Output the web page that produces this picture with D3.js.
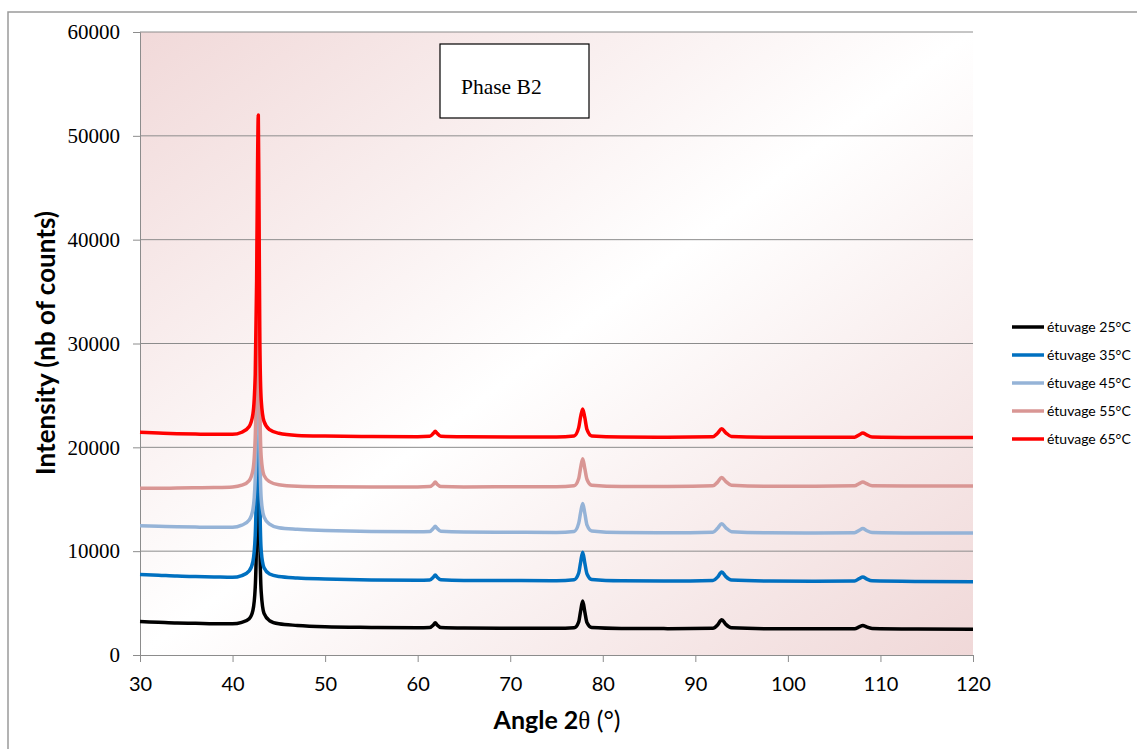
<!DOCTYPE html>
<html><head><meta charset="utf-8">
<script src="https://cdn.jsdelivr.net/npm/d3@7"></script>
<style>html,body{margin:0;padding:0;background:#fff;}svg{display:block;}</style>
</head><body>
<svg id="chart" width="1137" height="749"></svg>
<script>
const angles = [30, 32, 34, 36, 38, 40, 41, 41.8, 42.2, 42.45, 42.6, 42.7, 42.78, 42.86, 42.95, 43.1, 43.4, 44, 45, 47, 50, 55, 60, 61.3, 61.7, 61.9, 62.1, 62.5, 65, 70, 75, 76.9, 77.4, 77.6, 77.83, 78.05, 78.3, 78.8, 82, 87, 91.9, 92.4, 92.85, 93.3, 93.9, 98, 103, 107.2, 107.7, 108.1, 108.5, 109.1, 114, 120];
const s25 = [3220, 3150, 3080, 3050, 3010, 3000, 3150, 3500, 4300, 6500, 12000, 22000, 27500, 20000, 11000, 6000, 4000, 3300, 3000, 2850, 2730, 2660, 2620, 2650, 2900, 3100, 2900, 2650, 2600, 2580, 2570, 2620, 3200, 4200, 5200, 4200, 3100, 2650, 2560, 2540, 2580, 2900, 3400, 2950, 2620, 2530, 2520, 2540, 2700, 2850, 2700, 2560, 2500, 2480];
const s35 = [7750, 7680, 7600, 7560, 7520, 7480, 7650, 8100, 9000, 11500, 18000, 28000, 33000, 25000, 15000, 10000, 8400, 7800, 7550, 7420, 7330, 7230, 7200, 7230, 7500, 7700, 7500, 7250, 7180, 7170, 7160, 7250, 7900, 8900, 9900, 8900, 7800, 7280, 7150, 7130, 7180, 7500, 8000, 7550, 7220, 7120, 7100, 7120, 7350, 7520, 7330, 7140, 7080, 7060];
const s45 = [12450, 12400, 12350, 12320, 12300, 12300, 12500, 13000, 14000, 17000, 24000, 34000, 38500, 30000, 20000, 15000, 13300, 12600, 12250, 12100, 12000, 11900, 11860, 11900, 12200, 12400, 12200, 11920, 11840, 11820, 11800, 11900, 12700, 13700, 14600, 13700, 12500, 11950, 11790, 11780, 11830, 12200, 12650, 12250, 11880, 11770, 11760, 11780, 12000, 12180, 11990, 11800, 11750, 11740];
const s55 = [16050, 16050, 16080, 16100, 16120, 16180, 16350, 16800, 17800, 21000, 28000, 39000, 44000, 35000, 24000, 19000, 17300, 16700, 16400, 16250, 16200, 16180, 16180, 16220, 16450, 16650, 16450, 16230, 16190, 16200, 16210, 16300, 17000, 18000, 18900, 18000, 16900, 16350, 16230, 16240, 16300, 16650, 17100, 16700, 16350, 16250, 16260, 16290, 16500, 16650, 16500, 16300, 16270, 16280];
const s65 = [21450, 21380, 21320, 21280, 21250, 21250, 21450, 22000, 23200, 27000, 36000, 47000, 52000, 43000, 30000, 24500, 22500, 21700, 21350, 21150, 21080, 21040, 21020, 21060, 21350, 21550, 21350, 21070, 21020, 21000, 21000, 21100, 21900, 22900, 23700, 22900, 21700, 21100, 20990, 20980, 21020, 21350, 21780, 21400, 21050, 20970, 20960, 20980, 21200, 21380, 21200, 21000, 20950, 20940];
const seriesNames = ["étuvage 25°C", "étuvage 35°C", "étuvage 45°C", "étuvage 55°C", "étuvage 65°C"];
const seriesColors = ["#000000", "#0070c0", "#95b3d7", "#d99694", "#ff0000"];
const xTicks = [30, 40, 50, 60, 70, 80, 90, 100, 110, 120];
const yTicks = [0, 10000, 20000, 30000, 40000, 50000, 60000];
const allSeries = [s25, s35, s45, s55, s65];

const svg = d3.select("#chart");
const L = 140, R = 973, T = 32, B = 655;
const x = d3.scaleLinear().domain([30, 120]).range([L, R]);
const y = d3.scaleLinear().domain([0, 60000]).range([B, T]);

// outer border
svg.append("rect").attr("x", 8).attr("y", 12).attr("width", 1200).attr("height", 800)
  .attr("fill", "#fff").attr("stroke", "#9a9a9a").attr("stroke-width", 1.5);

// background gradient
const defs = svg.append("defs");
const g = defs.append("linearGradient").attr("id", "bg").attr("x1", 0).attr("y1", 0).attr("x2", 1).attr("y2", 1);
g.append("stop").attr("offset", 0).attr("stop-color", "#f1d9d9");
g.append("stop").attr("offset", 0.5).attr("stop-color", "#ffffff");
g.append("stop").attr("offset", 1).attr("stop-color", "#f0d8d8");
svg.append("rect").attr("x", L).attr("y", T).attr("width", R - L).attr("height", B - T).attr("fill", "url(#bg)");

// gridlines
svg.append("g").selectAll("line").data(yTicks.filter(d => d > 0)).join("line")
  .attr("x1", L).attr("x2", R).attr("y1", d => y(d)).attr("y2", d => y(d))
  .attr("stroke", "#8c8c8c").attr("stroke-width", 1);

// y axis
const yAxis = svg.append("g").attr("transform", `translate(${L},0)`)
  .call(d3.axisLeft(y).tickValues(yTicks).tickSize(7).tickPadding(13).tickFormat(d3.format("d")));
yAxis.select(".domain").attr("stroke", "#8c8c8c");
yAxis.selectAll(".tick line").attr("stroke", "#8c8c8c");
yAxis.selectAll("text").attr("font-family", "Liberation Serif, serif").attr("font-size", 21).attr("fill", "#000");

// x axis
const xAxis = svg.append("g").attr("transform", `translate(0,${B})`)
  .call(d3.axisBottom(x).tickValues(xTicks).tickSize(7).tickPadding(15).tickFormat(d3.format("d")));
xAxis.select(".domain").attr("stroke", "#8c8c8c");
xAxis.selectAll(".tick line").attr("stroke", "#8c8c8c");
xAxis.selectAll("text").attr("font-family", "Lato, sans-serif").attr("font-size", 20).attr("fill", "#000");

// lines
const line = d3.line().x((d, i) => x(angles[i])).y(d => y(d)).curve(d3.curveMonotoneX);
svg.append("g").selectAll("path").data(allSeries).join("path")
  .attr("d", d => line(d)).attr("fill", "none")
  .attr("stroke", (d, i) => seriesColors[i]).attr("stroke-width", 3.5)
  .attr("stroke-linejoin", "round");

// Phase B2 box
svg.append("rect").attr("x", 440).attr("y", 44).attr("width", 149).attr("height", 74)
  .attr("fill", "#fff").attr("stroke", "#000").attr("stroke-width", 1.2);
svg.append("text").attr("x", 461).attr("y", 94).attr("font-family", "Liberation Serif, serif")
  .attr("font-size", 21.5).text("Phase B2");

// axis titles
svg.append("text").attr("transform", "translate(55,343) rotate(-90)").attr("text-anchor", "middle")
  .attr("font-family", "Lato, sans-serif").attr("font-weight", "bold").attr("font-size", 26)
  .text("Intensity (nb of counts)");
const xt = svg.append("text").attr("x", 557).attr("y", 729).attr("text-anchor", "middle")
  .attr("font-family", "Lato, sans-serif").attr("font-size", 25);
xt.append("tspan").attr("font-weight", "bold").text("Angle 2");
xt.append("tspan").attr("font-family", "Liberation Serif, serif").text("θ");
xt.append("tspan").text(" (°)");

// legend
const lg = svg.append("g").selectAll("g").data(seriesNames).join("g")
  .attr("transform", (d, i) => `translate(1012,${327 + i * 28})`);
lg.append("line").attr("x1", 0).attr("x2", 32).attr("stroke", (d, i) => seriesColors[i]).attr("stroke-width", 3.5);
lg.append("text").attr("x", 35).attr("dy", "0.35em").attr("font-family", "Lato, sans-serif")
  .attr("font-size", 14).text(d => d);
</script>
</body></html>
